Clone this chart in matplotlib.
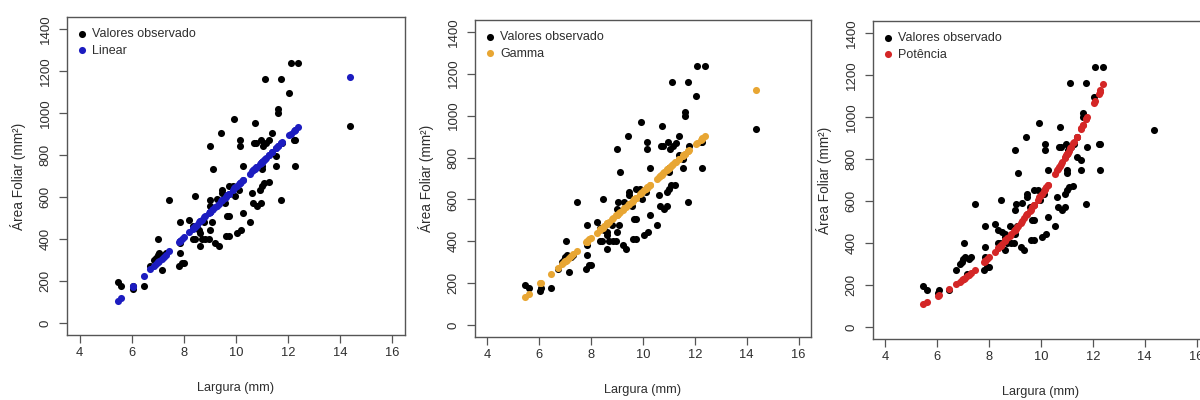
import numpy as np
import matplotlib
matplotlib.use("Agg")
import matplotlib.pyplot as plt

plt.rcParams["font.family"] = ["Liberation Sans", "DejaVu Sans"]

largura = [5.46, 5.59, 6.04, 6.06, 6.46, 6.72, 6.86, 6.95, 7.00, 7.05,
           7.02, 7.15, 7.23, 7.30, 7.44, 7.84, 7.84, 7.80, 7.85, 7.93,
           7.99, 8.21, 8.34, 8.42, 8.44, 8.36, 8.49, 8.60, 8.63, 8.63,
           8.70, 8.83, 8.96, 8.79, 8.99, 8.99, 9.02, 9.08, 9.12, 8.99,
           9.26, 9.21, 9.34, 9.43, 9.47, 9.47, 9.56, 9.66, 9.72, 9.60,
           9.72, 9.72, 9.87, 9.94, 9.98, 10.04, 10.10, 10.15, 10.17, 10.20,
           10.27, 10.27, 10.53, 10.63, 10.66, 10.72, 10.70, 10.78, 10.81, 10.94,
           10.97, 11.00, 11.00, 10.91, 11.00, 11.07, 11.03, 11.16, 11.26, 11.13,
           11.25, 11.37, 11.37, 11.53, 11.55, 11.62, 11.62, 11.73, 11.73, 11.77,
           12.05, 12.09, 12.39, 12.22, 12.28, 12.26, 14.37]
area = [194, 178, 162, 179, 178, 270, 302, 312, 325, 333,
        400, 254, 325, 333, 587, 479, 333, 270, 383, 286,
        286, 492, 400, 400, 603, 462, 454, 444, 429, 365,
        400, 400, 400, 479, 444, 556, 587, 479, 733, 841,
        589, 381, 365, 905, 635, 619, 571, 508, 508, 413,
        413, 651, 652, 971, 603, 429, 635, 841, 873, 444,
        749, 524, 479, 619, 571, 952, 857, 857, 556, 571,
        873, 749, 733, 635, 651, 667, 841, 857, 870, 1159,
        670, 905, 810, 794, 749, 1019, 1000, 1159, 587, 857,
        1094, 1238, 1238, 873, 873, 749, 937]

# fitted model coefficients
linear_coef = (-548.0, 119.6)   # a + b*x
gamma_coef = (-470.0, 110.9)    # a + b*x (identity link)
potencia_coef = (0.908, 2.84)   # a * x**b

model_names = ["Linear", "Gamma", "Potência"]
model_colors = ["#1c1cc0", "#e8a633", "#d42626"]

x = np.array(largura)
fitted = [
    linear_coef[0] + linear_coef[1] * x,
    gamma_coef[0] + gamma_coef[1] * x,
    potencia_coef[0] * x ** potencia_coef[1],
]

fig = plt.figure(figsize=(12, 4), dpi=100)
positions = [
    [67 / 1200, 65 / 400, 338 / 1200, 318 / 400],
    [475 / 1200, 63 / 400, 336 / 1200, 317 / 400],
    [873 / 1200, 61 / 400, 336 / 1200, 318 / 400],
]
txt = "#2e2e2e"

for pos, name, col, yfit in zip(positions, model_names, model_colors, fitted):
    ax = fig.add_axes(pos)
    ax.scatter(largura, area, s=26, color="black", lw=0, label="Valores observado", zorder=2)
    ax.scatter(x, yfit, s=26, color=col, lw=0, label=name, zorder=3)
    ax.set_xlim(3.52, 16.48)
    ax.set_ylim(-56, 1456)
    ax.set_xticks(range(4, 17, 2))
    ax.set_yticks(range(0, 1401, 200))
    for sp in ax.spines.values():
        sp.set_color("#555555")
        sp.set_linewidth(1.0)
    ax.tick_params(axis="both", direction="out", length=6, width=0.9,
                   color="#555555", labelcolor=txt, labelsize=9.3)
    ax.tick_params(axis="x", pad=3)
    ax.tick_params(axis="y", pad=5)
    for lab in ax.get_yticklabels():
        lab.set_rotation(90)
        lab.set_va("center")
        lab.set_fontsize(9.5)
    ax.set_xlabel("Largura (mm)", fontsize=9.2, color=txt, labelpad=16)
    ax.set_ylabel("Área Foliar (mm²)", fontsize=9.8, color=txt, labelpad=10)
    ax.legend(loc="upper left", frameon=False, fontsize=9, handlelength=0.6,
              handletextpad=0.5, labelspacing=0.35, borderaxespad=0.5,
              borderpad=0.4, labelcolor=txt, scatterpoints=1)

fig.savefig("out.png", dpi=100)
